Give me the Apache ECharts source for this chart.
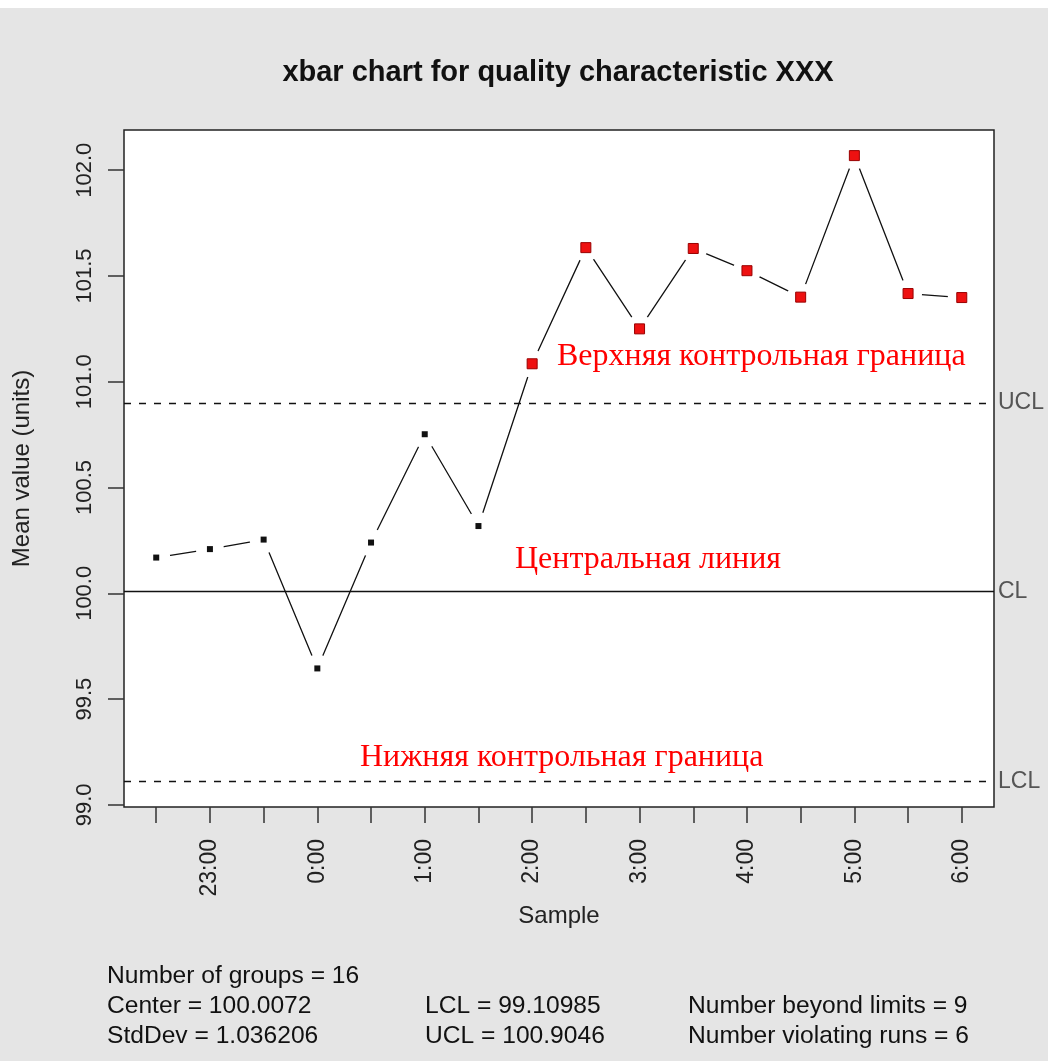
<!DOCTYPE html>
<html>
<head>
<meta charset="utf-8">
<script src="https://cdn.jsdelivr.net/npm/echarts@6/dist/echarts.min.js"></script>
<style>
  html, body { margin: 0; padding: 0; background: #fff; }
  #chart { position: absolute; left: 0; top: 8px; width: 1048px; height: 1053px; background: #e5e5e5; }
</style>
</head>
<body>
<div id="chart"></div>
<script>
// sample times (one per group) and group means
var sampleLabels = ['22:30', '23:00', '23:30', '0:00', '0:30', '1:00', '1:30', '2:00',
                    '2:30', '3:00', '3:30', '4:00', '4:30', '5:00', '5:30', '6:00'];
var groupMeans = [100.169, 100.209, 100.254, 99.645, 100.240, 100.752, 100.318, 101.085,
                  101.634, 101.250, 101.630, 101.525, 101.400, 102.069, 101.417, 101.398];
var yTicks = [99.0, 99.5, 100.0, 100.5, 101.0, 101.5, 102.0];
var xTicks = [1, 2, 3, 4, 5, 6, 7, 8, 9, 10, 11, 12, 13, 14, 15, 16];
var xLabelTicks = [2, 4, 6, 8, 10, 12, 14, 16];
var center = 100.0072;
var lcl = 99.10985;
var ucl = 100.9046;

var sans = "'Liberation Sans', Arial, sans-serif";
var serif = "'Liberation Serif', 'Times New Roman', serif";

var points = groupMeans.map(function (v, i) { return [i + 1, v]; });
var okPoints = points.filter(function (p) { return p[1] <= ucl && p[1] >= lcl; });
var badPoints = points.filter(function (p) { return p[1] > ucl || p[1] < lcl; });

var myChart = echarts.init(document.getElementById('chart'));
myChart.setOption({
  animation: false,
  title: {
    text: 'xbar chart for quality characteristic XXX',
    left: 558, top: 50, padding: 0, textAlign: 'center',
    textStyle: { fontFamily: sans, fontSize: 29, fontWeight: 'bold', color: '#111' }
  },
  grid: {
    left: 124, right: 54, top: 122, bottom: 254,
    show: true, backgroundColor: '#fff', borderColor: '#222', borderWidth: 1.5
  },
  xAxis: {
    type: 'value', min: 0.4, max: 16.6,
    name: 'Sample', nameLocation: 'middle', nameGap: 95,
    nameTextStyle: { fontFamily: sans, fontSize: 24, color: '#222' },
    axisLine: { show: false },
    splitLine: { show: false },
    axisTick: { show: true, length: 16, customValues: xTicks, lineStyle: { color: '#333', width: 1.5 } },
    axisLabel: {
      customValues: xLabelTicks, rotate: 90, margin: 32,
      fontFamily: sans, fontSize: 23, color: '#222',
      formatter: function (v) { return sampleLabels[Math.round(v) - 1]; }
    }
  },
  yAxis: {
    type: 'value', min: 98.99, max: 102.19,
    name: 'Mean value (units)', nameLocation: 'middle', nameGap: 90, nameRotate: 90,
    nameTextStyle: { fontFamily: sans, fontSize: 24, color: '#222' },
    axisLine: { show: false },
    splitLine: { show: false },
    axisTick: { show: true, length: 16, customValues: yTicks, lineStyle: { color: '#333', width: 1.5 } },
    axisLabel: {
      customValues: yTicks, rotate: 90, margin: 28,
      fontFamily: sans, fontSize: 22, color: '#222',
      formatter: function (v) { return v.toFixed(1); }
    }
  },
  series: [
    {
      type: 'line', data: points, symbol: 'none', z: 2,
      lineStyle: { color: '#111', width: 1.3 },
      markLine: {
        silent: true, symbol: 'none',
        label: { position: 'end', distance: 4, fontFamily: sans, fontSize: 23, color: '#555' },
        data: [
          { yAxis: ucl, name: 'UCL', lineStyle: { type: [7, 8], color: '#111', width: 1.3 }, label: { formatter: 'UCL' } },
          { yAxis: center, name: 'CL', lineStyle: { type: 'solid', color: '#111', width: 1.3 }, label: { formatter: 'CL' } },
          { yAxis: lcl, name: 'LCL', lineStyle: { type: [7, 8], color: '#111', width: 1.3 }, label: { formatter: 'LCL' } }
        ]
      }
    },
    {
      // white halo so the connecting line stops short of each point
      type: 'scatter', data: points, symbol: 'circle', symbolSize: 28, z: 3, silent: true,
      itemStyle: { color: '#fff', opacity: 1 }
    },
    {
      type: 'scatter', data: okPoints, symbol: 'rect', symbolSize: 6, z: 4,
      itemStyle: { color: '#111', opacity: 1 }
    },
    {
      type: 'scatter', data: badPoints, symbol: 'rect', symbolSize: 10, z: 4,
      itemStyle: { color: '#ee1111', borderColor: '#990000', borderWidth: 1, opacity: 1 }
    }
  ],
  graphic: [
    { type: 'text', z: 10, style: { x: 557, y: 349, text: 'Верхняя контрольная граница', font: '32px ' + serif, fill: '#ff0000', verticalAlign: 'middle' } },
    { type: 'text', z: 10, style: { x: 515, y: 552, text: 'Центральная линия', font: '32px ' + serif, fill: '#ff0000', verticalAlign: 'middle' } },
    { type: 'text', z: 10, style: { x: 360, y: 750, text: 'Нижняя контрольная граница', font: '32px ' + serif, fill: '#ff0000', verticalAlign: 'middle' } },
    { type: 'text', style: { x: 107, y: 968, text: 'Number of groups = 16', font: '24.6px ' + sans, fill: '#111', verticalAlign: 'middle' } },
    { type: 'text', style: { x: 107, y: 998, text: 'Center = 100.0072', font: '24.6px ' + sans, fill: '#111', verticalAlign: 'middle' } },
    { type: 'text', style: { x: 107, y: 1028, text: 'StdDev = 1.036206', font: '24.6px ' + sans, fill: '#111', verticalAlign: 'middle' } },
    { type: 'text', style: { x: 425, y: 998, text: 'LCL = 99.10985', font: '24.6px ' + sans, fill: '#111', verticalAlign: 'middle' } },
    { type: 'text', style: { x: 425, y: 1028, text: 'UCL = 100.9046', font: '24.6px ' + sans, fill: '#111', verticalAlign: 'middle' } },
    { type: 'text', style: { x: 688, y: 998, text: 'Number beyond limits = 9', font: '24.6px ' + sans, fill: '#111', verticalAlign: 'middle' } },
    { type: 'text', style: { x: 688, y: 1028, text: 'Number violating runs = 6', font: '24.6px ' + sans, fill: '#111', verticalAlign: 'middle' } }
  ]
});
</script>
</body>
</html>
